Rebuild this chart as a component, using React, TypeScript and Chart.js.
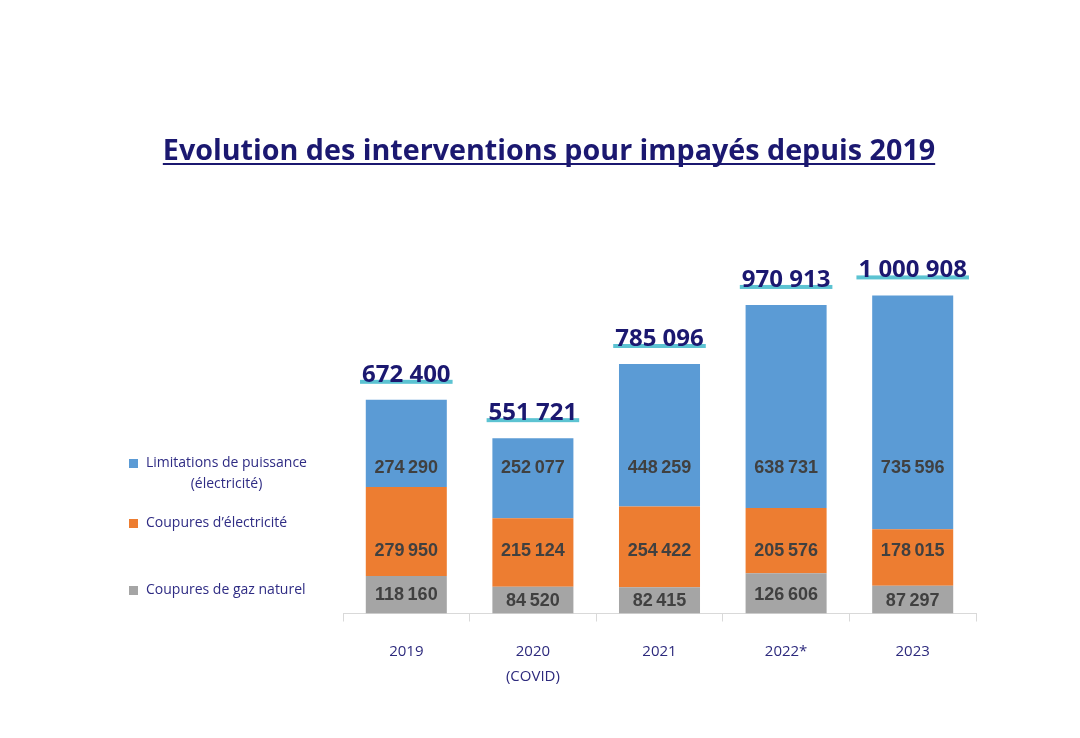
import React, { useEffect, useRef } from "react";
import { Chart, registerables } from "chart.js";

Chart.register(...registerables);

const titleText = "Evolution des interventions pour impayés depuis 2019";
const categories: string[][] = [["2019"], ["2020", "(COVID)"], ["2021"], ["2022*"], ["2023"]];
const gasCuts = [118160, 84520, 82415, 126606, 87297];
const elecCuts = [279950, 215124, 254422, 205576, 178015];
const powerLimits = [274290, 252077, 448259, 638731, 735596];
const seriesNames = [
  "Coupures de gaz naturel",
  "Coupures d’électricité",
  "Limitations de puissance",
];
const seriesColors = ["#a5a5a5", "#ed7d31", "#5b9bd5"];
// value level (in data units) at which each series' inside label sits
const labelLevels = [60000, 200000, 460000];

const NAVY = "#1b1870";
const LEGEND_TEXT = "#2f2c84";

const fmt = (n: number) =>
  n.toString().replace(/\B(?=(\d{3})+(?!\d))/g, "\u202F");

const overlayPlugin = {
  id: "overlay",
  afterDatasetsDraw(chart: any) {
    const ctx = chart.ctx as CanvasRenderingContext2D;
    const yScale = chart.scales.y;
    ctx.save();

    // inside segment labels
    ctx.font = "bold 18px 'Liberation Sans', Arial, sans-serif";
    ctx.fillStyle = "#404040";
    ctx.textAlign = "center";
    ctx.textBaseline = "middle";
    chart.data.datasets.forEach((ds: any, di: number) => {
      const meta = chart.getDatasetMeta(di);
      meta.data.forEach((bar: any, i: number) => {
        const top = Math.min(bar.y, bar.base);
        const bottom = Math.max(bar.y, bar.base);
        let y = yScale.getPixelForValue(labelLevels[di]);
        if (y < top + 12 || y > bottom - 12) y = (top + bottom) / 2;
        ctx.fillText(fmt(ds.data[i]), bar.x, y + 1);
      });
    });

    // totals above the bars
    const lastMeta = chart.getDatasetMeta(chart.data.datasets.length - 1);
    ctx.font = "bold 24px 'Open Sans', sans-serif";
    lastMeta.data.forEach((bar: any, i: number) => {
      const total = gasCuts[i] + elecCuts[i] + powerLimits[i];
      const text = fmt(total).replace(/\u202F/g, " ");
      const w = ctx.measureText(text).width;
      const lineY = bar.y - 20;
      ctx.fillStyle = "#5cc3d2";
      ctx.fillRect(bar.x - w / 2 - 2, lineY, w + 4, 4);
      ctx.fillStyle = NAVY;
      ctx.textBaseline = "alphabetic";
      ctx.fillText(text, bar.x, lineY + 2);
    });
    ctx.restore();
  },
  afterDraw(chart: any) {
    const ctx = chart.ctx as CanvasRenderingContext2D;
    ctx.save();
    // title
    ctx.font = "bold 28.7px 'Open Sans', sans-serif";
    ctx.fillStyle = NAVY;
    ctx.textAlign = "center";
    ctx.textBaseline = "alphabetic";
    const tx = 549;
    const ty = 160;
    ctx.fillText(titleText, tx, ty);
    const tw = ctx.measureText(titleText).width;
    ctx.fillRect(tx - tw / 2, ty + 3, tw, 2);

    // legend
    ctx.font = "14px 'Open Sans', sans-serif";
    const items = [
      { c: seriesColors[2], lines: [seriesNames[2], "(électricité)"], y: 463 },
      { c: seriesColors[1], lines: [seriesNames[1]], y: 523 },
      { c: seriesColors[0], lines: [seriesNames[0]], y: 590 },
    ];
    items.forEach((it) => {
      ctx.fillStyle = it.c;
      ctx.fillRect(129, it.y - 4, 9, 9);
      ctx.fillStyle = LEGEND_TEXT;
      ctx.textBaseline = "middle";
      ctx.textAlign = "left";
      const w0 = ctx.measureText(it.lines[0]).width;
      const x0 = 146;
      ctx.fillText(it.lines[0], x0, it.y);
      if (it.lines[1]) {
        ctx.textAlign = "center";
        ctx.fillText(it.lines[1], x0 + w0 / 2, it.y + 21);
      }
    });
    ctx.restore();
  },
};

export default function App() {
  const ref = useRef<HTMLCanvasElement | null>(null);
  useEffect(() => {
    document.body.style.margin = "0";
    const canvas = ref.current!;
    const chart = new Chart(canvas, {
      type: "bar",
      data: {
        labels: categories,
        datasets: [
          { label: seriesNames[0], data: gasCuts, backgroundColor: seriesColors[0] },
          { label: seriesNames[1], data: elecCuts, backgroundColor: seriesColors[1] },
          { label: seriesNames[2], data: powerLimits, backgroundColor: seriesColors[2] },
        ],
      },
      options: {
        animation: false,
        responsive: false,
        devicePixelRatio: 1,
        layout: { padding: { left: 343, right: 104, top: 283, bottom: 31 } },
        plugins: { legend: { display: false }, tooltip: { enabled: false }, title: { display: false } },
        datasets: { bar: { categoryPercentage: 0.64, barPercentage: 1 } },
        scales: {
          x: {
            stacked: true,
            offset: true,
            grid: {
              display: true,
              drawOnChartArea: false,
              drawTicks: true,
              tickLength: 8,
              color: "#d9d9d9",
              offset: true,
            },
            border: { color: "#d9d9d9" },
            ticks: {
              color: "#2d2a7d",
              font: { family: "'Open Sans', sans-serif", size: 15, lineHeight: 1.65 },
              padding: 18,
            },
          },
          y: { stacked: true, display: false, min: 0, max: 1040000 },
        },
      },
      plugins: [overlayPlugin],
    });
    return () => chart.destroy();
  }, []);
  return (
    <div style={{ width: 1080, height: 738, background: "#ffffff" }}>
      <canvas ref={ref} width={1080} height={738} style={{ display: "block" }} />
    </div>
  );
}
